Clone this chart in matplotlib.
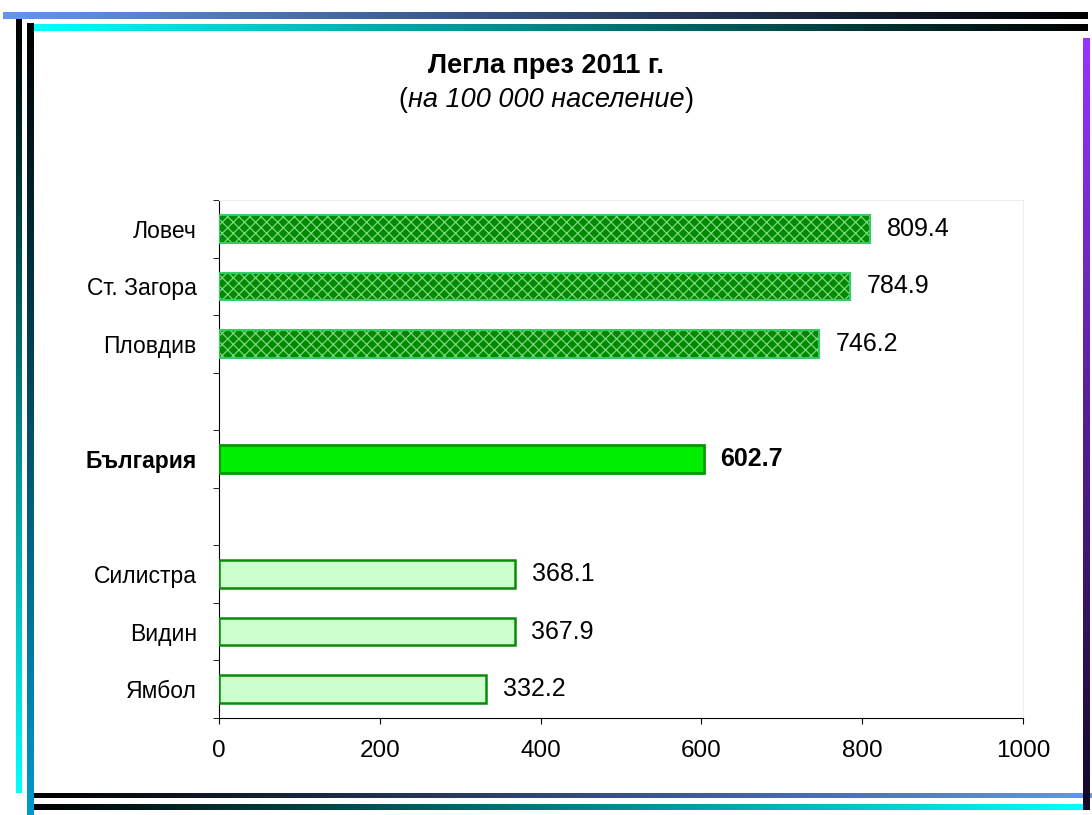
import numpy as np
import matplotlib.pyplot as plt
from matplotlib.colors import LinearSegmentedColormap

plt.rcParams["font.family"] = ["Liberation Sans", "DejaVu Sans"]
plt.rcParams["hatch.linewidth"] = 0.9

TITLE = "Легла през 2011 г."
SUBTITLE = "на 100 000 население"

top_regions = ["Ловеч", "Ст. Загора", "Пловдив"]
top_values = [809.4, 784.9, 746.2]
country = "България"
country_value = 602.7
low_regions = ["Силистра", "Видин", "Ямбол"]
low_values = [368.1, 367.9, 332.2]
x_ticks = [0, 200, 400, 600, 800, 1000]

W, H = 1092, 815
fig = plt.figure(figsize=(W / 100, H / 100), dpi=100)
fig.patch.set_facecolor("white")


def gradient(deco, x0, x1, y0, y1, c0, c1, vertical=False):
    cmap = LinearSegmentedColormap.from_list("g", [c0, c1])
    grad = np.linspace(0, 1, 256)
    img = grad.reshape(-1, 1) if vertical else grad.reshape(1, -1)
    deco.imshow(img, cmap=cmap, aspect="auto", extent=(x0, x1, y1, y0),
                interpolation="bilinear")


# decorative frame
deco = fig.add_axes([0, 0, 1, 1])
gradient(deco, 3, 1088, 12, 19, "#6495ED", "#000000")
gradient(deco, 30, 1088, 24, 31, "#00FFFF", "#000000")
gradient(deco, 16, 22, 19, 793, "#000000", "#00FFFF", vertical=True)
gradient(deco, 27, 34, 23, 815, "#000000", "#0099CC", vertical=True)
gradient(deco, 34, 1092, 793, 798, "#000000", "#6495ED")
gradient(deco, 34, 1088, 804, 810, "#000000", "#00FFFF")
gradient(deco, 1083, 1090, 38, 810, "#9933FF", "#12082a", vertical=True)
deco.set_xlim(0, W)
deco.set_ylim(H, 0)
deco.axis("off")

# title and subtitle, parentheses upright around the italic text
fig.text(0.5, 0.919, TITLE, ha="center", va="center", fontsize=19.5, fontweight="bold")
sub = fig.text(0.5, 0.877, SUBTITLE, ha="center", va="center", fontsize=19.5, style="italic")
fig.canvas.draw()
sub_box = sub.get_window_extent()
fig.text(sub_box.x0 / W, 0.877, "(", ha="right", va="center", fontsize=19.5)
fig.text(sub_box.x1 / W, 0.877, ")", ha="left", va="center", fontsize=19.5)

ax = fig.add_axes([219 / W, 1 - 718 / H, (1023 - 219) / W, (718 - 200) / H])

n_slots = len(top_regions) + len(low_regions) + 3
top_pos = np.arange(len(top_regions))
country_pos = len(top_regions) + 1
low_pos = np.arange(len(low_regions)) + len(top_regions) + 3
bar_h = 0.48

ax.barh(top_pos, top_values, height=bar_h, color="#008a00", edgecolor="#7fd67f",
        hatch="xxx", linewidth=0, zorder=2)
ax.barh(top_pos, top_values, height=bar_h, color="none", edgecolor="#33cc66",
        linewidth=1.5, zorder=3)
ax.barh([country_pos], [country_value], height=bar_h, color="#00ee00",
        edgecolor="#009a00", linewidth=2.0, zorder=3)
ax.barh(low_pos, low_values, height=bar_h, color="#ccffcc", edgecolor="#0a8a0a",
        linewidth=1.8, zorder=3)

for p, v in zip(top_pos, top_values):
    ax.annotate(f"{v:.1f}", (v, p), xytext=(12, 0), textcoords="offset points",
                va="center", fontsize=18)
ax.annotate(f"{country_value:.1f}", (country_value, country_pos), xytext=(12, 0),
            textcoords="offset points", va="center", fontsize=18, fontweight="bold")
for p, v in zip(low_pos, low_values):
    ax.annotate(f"{v:.1f}", (v, p), xytext=(12, 0), textcoords="offset points",
                va="center", fontsize=18)

ax.set_xlim(0, 1000)
ax.set_ylim(n_slots - 0.5, -0.5)
ax.set_xticks(x_ticks)
ax.tick_params(axis="x", labelsize=17.5, length=4.5, pad=11)

ax.set_yticks(list(top_pos) + [country_pos] + list(low_pos))
ax.set_yticklabels(top_regions + [country] + low_regions)
ax.set_yticks(np.arange(n_slots + 1) - 0.5, minor=True)
ax.tick_params(axis="y", which="major", length=0, labelsize=16.5, pad=16)
ax.tick_params(axis="y", which="minor", length=4)
ax.get_yticklabels()[len(top_regions)].set_fontweight("bold")

for side in ["top", "right"]:
    ax.spines[side].set_color("#eeeeee")
ax.spines["left"].set_color("black")
ax.spines["bottom"].set_color("black")

fig.savefig("out.png", dpi=100)
